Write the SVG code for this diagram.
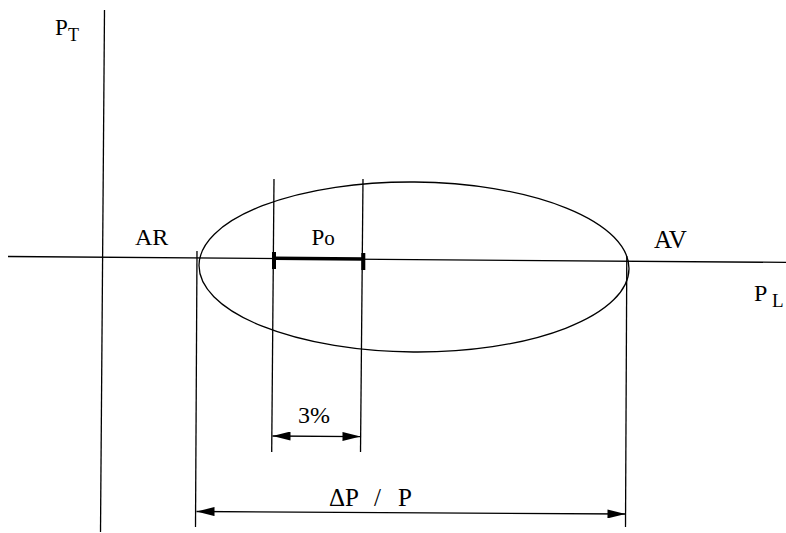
<svg xmlns="http://www.w3.org/2000/svg" width="786" height="533" viewBox="0 0 786 533">
<defs>
<style>
.ln{stroke:#000;stroke-width:1.3;fill:none}
.t{font-family:"Liberation Serif","Times New Roman",serif;fill:#000}
</style>
<marker id="ah" viewBox="0 0 20 10" refX="20" refY="5" markerWidth="20" markerHeight="9" markerUnits="userSpaceOnUse" orient="auto-start-reverse">
<path d="M0,0 L20,5 L0,10 Z" fill="#000"/>
</marker>
</defs>
<rect width="786" height="533" fill="#fff"/>
<g id="axes">
<line class="ln" x1="8" y1="256.5" x2="786" y2="262.4"/>
<line class="ln" x1="104.5" y1="10" x2="100.5" y2="532"/>
</g>
<g id="ellipse">
<ellipse class="ln" cx="414" cy="267" rx="215" ry="85" transform="rotate(0.44 414 267)"/>
</g>
<g id="connectors">
<line class="ln" x1="197" y1="251" x2="195.5" y2="527"/>
<line class="ln" x1="626.8" y1="256" x2="625.5" y2="527"/>
<line class="ln" x1="274" y1="179" x2="271.7" y2="452"/>
<line class="ln" x1="363" y1="179" x2="360.5" y2="452"/>
<line class="ln" x1="272.5" y1="436" x2="360.5" y2="436.6" marker-start="url(#ah)" marker-end="url(#ah)"/>
<line class="ln" x1="196.5" y1="511.5" x2="625.5" y2="514" marker-start="url(#ah)" marker-end="url(#ah)"/>
</g>
<g id="po-bar">
<line x1="274" y1="258.3" x2="363" y2="259" stroke="#000" stroke-width="3.5"/>
<rect x="272" y="252" width="4" height="17" fill="#000"/>
<rect x="361.3" y="253" width="4" height="17" fill="#000"/>
</g>
<g id="labels">
<text class="t" x="55" y="35" font-size="23">P</text>
<text class="t" x="68" y="40.5" font-size="18">T</text>
<text class="t" x="135" y="245" font-size="24">AR</text>
<text class="t" x="311.5" y="245" font-size="23">P<tspan font-size="21">o</tspan></text>
<text class="t" x="654" y="248.3" font-size="25">AV</text>
<text class="t" x="754" y="300.7" font-size="24">P</text>
<text class="t" x="772" y="307" font-size="19">L</text>
<text class="t" x="298" y="423.3" font-size="24">3%</text>
<text class="t" y="506" font-size="25"><tspan x="329">ΔP</tspan><tspan x="374">/</tspan><tspan x="398">P</tspan></text>
</g>
</svg>
